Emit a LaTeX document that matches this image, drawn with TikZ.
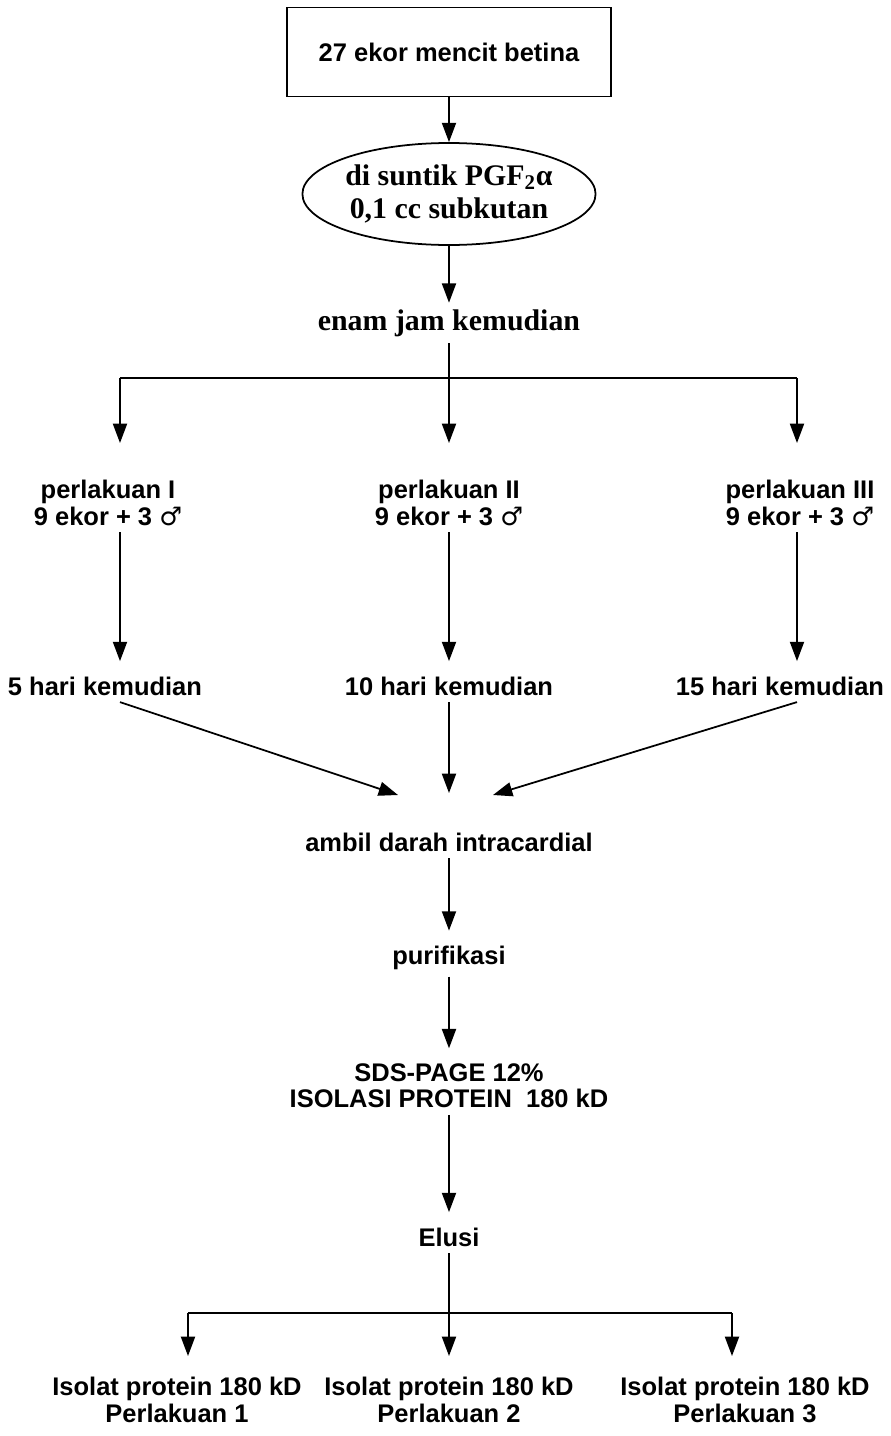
\documentclass[tikz,border=0pt]{standalone}
\usepackage{fontspec}
\setmainfont{Liberation Sans}
\newfontfamily\timesfont{Liberation Serif}
\newfontfamily\symfont{DejaVu Sans}
\usetikzlibrary{arrows.meta,positioning,shapes.geometric}

\begin{document}
\begin{tikzpicture}[>={Triangle[length=11pt,width=8pt]}, line width=1pt, on grid,
  lbl/.style={font=\bfseries\fontsize{14.5}{15}\selectfont, align=center},
  startbox/.style={draw, minimum width=6.48cm, minimum height=1.78cm, lbl},
  oval/.style={draw, ellipse, minimum width=5.82cm, minimum height=2.04cm, inner sep=0pt, align=center,
    font=\timesfont\bfseries\fontsize{17}{19}\selectfont},
  gap/.style={shorten >=5pt}]

\useasboundingbox (-8.98,1.04) rectangle (8.84,-27.68);

\node[startbox] (start) {27 ekor mencit betina};
\node[oval] (inject) [below=2.84cm of start] {di suntik PGF\textsubscript{2}α\\0,1 cc subkutan};
\node[lbl, font=\timesfont\bfseries\fontsize{17}{19}\selectfont] (enam) [below=2.58cm of inject] {enam jam kemudian};

\coordinate[below=1.1cm of enam] (fork);
\coordinate[left=6.58cm of fork] (forkL);
\coordinate[right=6.96cm of fork] (forkR);
\coordinate[below=1.3cm of forkL] (tipL);
\coordinate[below=1.3cm of fork] (tipM);
\coordinate[below=1.3cm of forkR] (tipR);

\node[lbl] (p2) [below=3.6cm of enam] {perlakuan II\\9 ekor + 3 {\symfont ♂}};
\node[lbl] (p1) [left=6.82cm of p2] {perlakuan I\\9 ekor + 3 {\symfont ♂}};
\node[lbl] (p3) [right=7.02cm of p2] {perlakuan III\\9 ekor + 3 {\symfont ♂}};

\node[lbl] (h2) [below=3.66cm of p2] {10 hari kemudian};
\node[lbl] (h1) [left=6.88cm of h2] {5 hari kemudian};
\node[lbl] (h3) [right=6.62cm of h2] {15 hari kemudian};

\node[lbl] (ambil) [below=3.12cm of h2] {ambil darah intracardial};
\coordinate[above left=0.94cm and 1.02cm of ambil] (inL);
\coordinate[above=0.98cm of ambil] (inM);
\coordinate[above right=0.94cm and 0.88cm of ambil] (inR);

\node[lbl] (puri) [below=2.32cm of ambil] {purifikasi};
\node[lbl] (sds) [below=2.56cm of puri] {SDS-PAGE 12\%\\ISOLASI PROTEIN\ \ 180 kD};
\node[lbl] (elusi) [below=3.02cm of sds] {Elusi};

\coordinate[below=1.52cm of elusi] (fork2);
\coordinate[left=5.22cm of fork2] (fork2L);
\coordinate[right=5.66cm of fork2] (fork2R);
\coordinate[below=0.86cm of fork2L] (tip2L);
\coordinate[below=0.86cm of fork2] (tip2M);
\coordinate[below=0.86cm of fork2R] (tip2R);

\node[lbl] (iso2) [below=3.26cm of elusi] {Isolat protein 180 kD\\Perlakuan 2};
\node[lbl] (iso1) [left=5.44cm of iso2] {Isolat protein 180 kD\\Perlakuan 1};
\node[lbl] (iso3) [right=5.92cm of iso2] {Isolat protein 180 kD\\Perlakuan 3};

\draw[->] (start) -- (inject);
\draw[->] (inject) -- (enam);
\draw (enam) -- (fork);
\draw (forkL) -- (forkR);
\draw[->] (forkL) -- (tipL);
\draw[->] (fork) -- (tipM);
\draw[->] (forkR) -- (tipR);

\draw[->, gap] (p1.south -| forkL) -- (h1.north -| forkL);
\draw[->, gap] (p2) -- (h2);
\draw[->, gap] (p3.south -| forkR) -- (h3.north -| forkR);

\draw[->] (h1.south -| forkL) -- (inL);
\draw[->] (h2) -- (inM);
\draw[->] (h3.south -| forkR) -- (inR);

\draw[->, gap] (ambil) -- (puri);
\draw[->, gap] (puri) -- (sds);
\draw[->, gap] (sds) -- (elusi);

\draw (elusi) -- (fork2);
\draw (fork2L) -- (fork2R);
\draw[->] (fork2L) -- (tip2L);
\draw[->] (fork2) -- (tip2M);
\draw[->] (fork2R) -- (tip2R);

\end{tikzpicture}
\end{document}
